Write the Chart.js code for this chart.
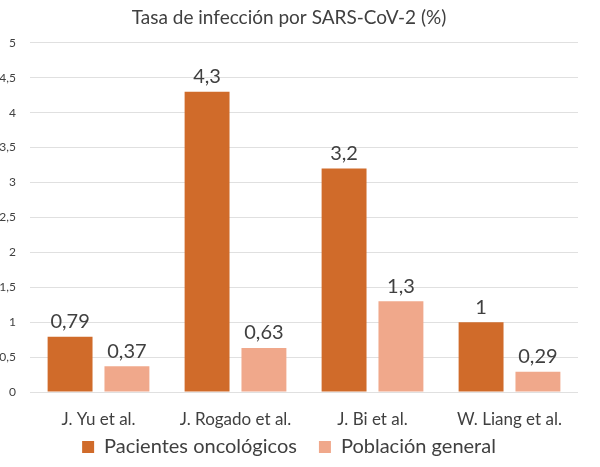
<!DOCTYPE html>
<html><head><meta charset="utf-8">
<script src="https://cdn.jsdelivr.net/npm/chart.js@4"></script>
<style>html,body{margin:0;padding:0;background:#fff}#w{width:600px;height:467px}</style>
</head><body><div id="w"><canvas id="c"></canvas></div>
<script>
const titleText = 'Tasa de infección por SARS-CoV-2 (%)';
const categories = ['J. Yu et al.', 'J. Rogado et al.', 'J. Bi et al.', 'W. Liang et al.'];
const seriesNames = ['Pacientes oncológicos', 'Población general'];
const oncologicos = [0.79, 4.3, 3.2, 1];
const general = [0.37, 0.63, 1.3, 0.29];
const colors = ['#D06B2A', '#F0A88B'];
const fmt = v => String(v).replace('.', ',');
const FONT = 'Lato, "Open Sans", sans-serif';

const labelPlugin = {
  id: 'vals',
  afterInit(chart) {
    const lg = chart.legend;
    if (lg) {
      const orig = lg.fit.bind(lg);
      lg.fit = function () { orig(); this.height = 52; };
    }
  },
  afterDatasetsDraw(chart) {
    const ctx = chart.ctx;
    ctx.save();
    ctx.font = '20px ' + FONT;
    ctx.fillStyle = '#404040';
    ctx.textAlign = 'center';
    ctx.textBaseline = 'bottom';
    chart.data.datasets.forEach((ds, i) => {
      chart.getDatasetMeta(i).data.forEach((bar, j) => {
        ctx.fillText(fmt(ds.data[j]), bar.x, bar.y - 5);
      });
    });
    ctx.restore();
  }
};

new Chart(document.getElementById('c'), {
  type: 'bar',
  data: {
    labels: categories,
    datasets: [
      { label: seriesNames[0], data: oncologicos, backgroundColor: colors[0] },
      { label: seriesNames[1], data: general, backgroundColor: colors[1] }
    ]
  },
  options: {
    responsive: true,
    maintainAspectRatio: false,
    animation: false,
    datasets: { bar: { categoryPercentage: 0.83, barPercentage: 0.79 } },
    layout: { padding: { left: 0, right: 22, top: 6, bottom: 0 } },
    plugins: {
      title: { display: true, text: titleText, color: '#404040',
        font: { family: FONT, size: 19, weight: 'normal' },
        padding: { top: 0, bottom: 14 } },
      legend: { position: 'bottom',
        labels: { color: '#404040', boxWidth: 12, boxHeight: 12, padding: 22,
          font: { family: FONT, size: 20 } } },
      tooltip: { enabled: false }
    },
    scales: {
      x: {
        afterFit(s) { s.height = 23; s._computeLabelArea = () => undefined; },
        grid: { display: false, drawTicks: false },
        border: { display: false },
        ticks: { color: '#404040', padding: 17, font: { family: FONT, size: 17 } }
      },
      y: {
        min: 0, max: 5,
        afterFit(s) { s.width = 30; },
        grid: { color: '#E0E0E0', drawTicks: false },
        border: { display: false },
        ticks: { stepSize: 0.5, color: '#404040', padding: 14,
          font: { family: FONT, size: 12 },
          callback: v => fmt(v) }
      }
    }
  },
  plugins: [labelPlugin]
});
</script></body></html>
